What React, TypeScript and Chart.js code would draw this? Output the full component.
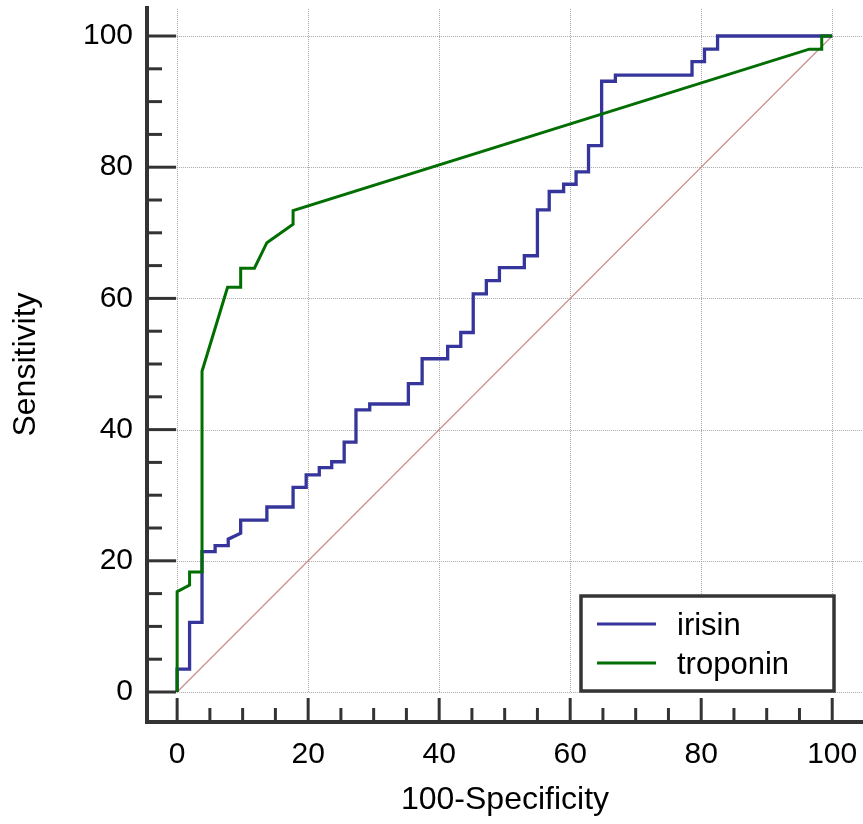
import React, { useEffect, useRef } from "react";
import { Chart, registerables } from "chart.js";

Chart.register(...registerables);

// ROC curve vertices (100-Specificity, Sensitivity)
const irisinX = [0, 0, 1.9, 1.9, 3.8, 3.8, 5.8, 5.8, 7.8, 7.8, 9.7, 9.7, 13.7, 13.7, 17.7, 17.7, 19.7, 19.7, 21.7, 21.7, 23.6, 23.6, 25.5, 25.5, 27.3, 27.3, 29.4, 29.4, 35.3, 35.3, 37.4, 37.4, 41.3, 41.3, 43.3, 43.3, 45.2, 45.2, 47.2, 47.2, 49.2, 49.2, 53.0, 53.0, 55.0, 55.0, 56.8, 56.8, 59.0, 59.0, 60.9, 60.9, 62.8, 62.8, 64.8, 64.8, 66.9, 66.9, 78.6, 78.6, 80.5, 80.5, 82.5, 82.5, 100];
const irisinY = [0, 3.5, 3.5, 10.6, 10.6, 21.4, 21.4, 22.3, 22.3, 23.3, 24.2, 26.2, 26.2, 28.2, 28.2, 31.2, 31.2, 33.1, 33.1, 34.2, 34.2, 35.1, 35.1, 38.1, 38.1, 43.0, 43.0, 43.9, 43.9, 47.0, 47.0, 50.8, 50.8, 52.7, 52.7, 54.8, 54.8, 60.7, 60.7, 62.7, 62.7, 64.7, 64.7, 66.5, 66.5, 73.5, 73.5, 76.3, 76.3, 77.4, 77.4, 79.3, 79.3, 83.3, 83.3, 93.1, 93.1, 94.05, 94.05, 96.1, 96.1, 98.0, 98.0, 100, 100];

const troponinX = [0, 0, 1.9, 1.9, 3.8, 3.8, 7.7, 9.7, 9.7, 11.8, 13.7, 17.7, 17.7, 96.5, 98.4, 98.4, 100];
const troponinY = [0, 15.3, 16.3, 18.3, 18.3, 48.9, 61.7, 61.7, 64.6, 64.6, 68.5, 71.3, 73.4, 98.0, 98.0, 100, 100];

const diagonalX = [0, 100];
const diagonalY = [0, 100];

const majorTicks = [0, 20, 40, 60, 80, 100];
const minorTicks = [5, 10, 15, 25, 30, 35, 45, 50, 55, 65, 70, 75, 85, 90, 95];

const seriesLabels = ["irisin", "troponin"];
const xTitle = "100-Specificity";
const yTitle = "Sensitivity";

const FONT = "'Liberation Sans', Arial, sans-serif";
const BLUE = "#35359b";
const GREEN = "#006e00";
const AXIS = "#333333";

const toPoints = (xs: number[], ys: number[]) => xs.map((x, i) => ({ x, y: ys[i] }));

const zeroPadding = (s: any) => {
  s.paddingTop = 0;
  s.paddingBottom = 0;
  s.paddingLeft = 0;
  s.paddingRight = 0;
};

const rocPlugin = {
  id: "rocDecor",
  beforeDatasetsDraw(chart: any) {
    const { ctx, chartArea, scales } = chart;
    const x = scales.x;
    const y = scales.y;
    ctx.save();
    ctx.strokeStyle = "#a8a8a8";
    ctx.lineWidth = 1;
    ctx.setLineDash([1, 1]);
    for (const v of majorTicks) {
      const py = Math.round(y.getPixelForValue(v)) + 0.5;
      ctx.beginPath();
      ctx.moveTo(x.getPixelForValue(0), py);
      ctx.lineTo(chartArea.right, py);
      ctx.stroke();
      const px = Math.round(x.getPixelForValue(v)) + 0.5;
      ctx.beginPath();
      ctx.moveTo(px, y.getPixelForValue(0));
      ctx.lineTo(px, chartArea.top);
      ctx.stroke();
    }
    ctx.restore();
  },
  afterDatasetsDraw(chart: any) {
    const { ctx, chartArea, scales } = chart;
    const x = scales.x;
    const y = scales.y;
    ctx.save();
    ctx.setLineDash([]);
    ctx.strokeStyle = AXIS;
    ctx.lineCap = "butt";
    const axX = chartArea.left;
    const axY = chartArea.bottom + 1;
    // axis lines
    ctx.lineWidth = 4;
    ctx.beginPath();
    ctx.moveTo(axX, chartArea.top - 2);
    ctx.lineTo(axX, axY + 2);
    ctx.stroke();
    ctx.beginPath();
    ctx.moveTo(axX - 2, axY);
    ctx.lineTo(chartArea.right, axY);
    ctx.stroke();
    // ticks
    ctx.lineWidth = 3;
    const x0 = x.getPixelForValue(0);
    const y0 = y.getPixelForValue(0);
    for (const v of majorTicks) {
      const py = y.getPixelForValue(v);
      ctx.beginPath();
      ctx.moveTo(axX, py);
      ctx.lineTo(x0 - 1, py);
      ctx.stroke();
      const px = x.getPixelForValue(v);
      ctx.beginPath();
      ctx.moveTo(px, axY);
      ctx.lineTo(px, y0 + 6);
      ctx.stroke();
    }
    for (const v of minorTicks) {
      const py = y.getPixelForValue(v);
      ctx.beginPath();
      ctx.moveTo(axX, py);
      ctx.lineTo(axX + 15, py);
      ctx.stroke();
      const px = x.getPixelForValue(v);
      ctx.beginPath();
      ctx.moveTo(px, axY);
      ctx.lineTo(px, axY - 14);
      ctx.stroke();
    }
    // legend
    const bw = 253;
    const bh = 95;
    const bx = chartArea.right - 29 - bw;
    const by = y0 - 1 - bh;
    ctx.fillStyle = "#ffffff";
    ctx.fillRect(bx, by, bw, bh);
    ctx.lineWidth = 3.5;
    ctx.strokeStyle = "#353535";
    ctx.strokeRect(bx, by, bw, bh);
    const items = chart.data.datasets.filter((d: any) => d.label);
    items.sort((a: any, b: any) => seriesLabels.indexOf(a.label) - seriesLabels.indexOf(b.label));
    ctx.font = `31px ${FONT}`;
    ctx.textBaseline = "alphabetic";
    ctx.textAlign = "left";
    items.forEach((d: any, i: number) => {
      const ly = by + 28 + i * 39;
      ctx.strokeStyle = d.borderColor;
      ctx.lineWidth = 3;
      ctx.beginPath();
      ctx.moveTo(bx + 16, ly);
      ctx.lineTo(bx + 75, ly);
      ctx.stroke();
      ctx.fillStyle = "#000000";
      ctx.fillText(d.label, bx + 96, ly + 11);
    });
    ctx.restore();
  },
};

export default function App() {
  const canvasRef = useRef<HTMLCanvasElement | null>(null);

  useEffect(() => {
    if (!canvasRef.current) return;
    const chart = new Chart(canvasRef.current, {
      type: "scatter",
      data: {
        datasets: [
          {
            label: seriesLabels[1],
            data: toPoints(troponinX, troponinY),
            showLine: true,
            borderColor: GREEN,
            backgroundColor: GREEN,
            borderWidth: 3,
            pointRadius: 0,
            tension: 0,
            order: 0,
          },
          {
            label: seriesLabels[0],
            data: toPoints(irisinX, irisinY),
            showLine: true,
            borderColor: BLUE,
            backgroundColor: BLUE,
            borderWidth: 3.3,
            pointRadius: 0,
            tension: 0,
            order: 1,
          },
          {
            label: "",
            data: toPoints(diagonalX, diagonalY),
            showLine: true,
            borderColor: "rgb(205,140,140)",
            borderWidth: 1.2,
            pointRadius: 0,
            tension: 0,
            order: 2,
          },
        ],
      },
      options: {
        responsive: false,
        animation: false,
        devicePixelRatio: 1,
        layout: { padding: { top: 8, left: 0, right: 0, bottom: 0 } },
        plugins: { legend: { display: false }, tooltip: { enabled: false } },
        scales: {
          x: {
            type: "linear",
            min: -4.6,
            max: 104.7,
            grid: { display: false, drawTicks: false },
            border: { display: false },
            afterBuildTicks: (s: any) => {
              s.ticks = majorTicks.map((v) => ({ value: v }));
            },
            afterFit: (s: any) => {
              s.height = 103;
              zeroPadding(s);
            },
            ticks: {
              padding: 16,
              color: "#000000",
              font: { family: FONT, size: 30 },
              maxRotation: 0,
              autoSkip: false,
            },
            title: {
              display: true,
              text: xTitle,
              color: "#000000",
              font: { family: FONT, size: 32 },
              padding: { top: 0, bottom: 5 },
            },
          },
          y: {
            type: "linear",
            min: -4.42,
            max: 104.27,
            grid: { display: false, drawTicks: false },
            border: { display: false },
            afterBuildTicks: (s: any) => {
              s.ticks = majorTicks.map((v) => ({ value: v }));
            },
            afterFit: (s: any) => {
              s.width = 147;
              zeroPadding(s);
            },
            ticks: {
              padding: 14,
              color: "#000000",
              font: { family: FONT, size: 30 },
              autoSkip: false,
            },
            title: {
              display: true,
              text: yTitle,
              color: "#000000",
              font: { family: FONT, size: 32 },
              padding: { top: 7, bottom: 0 },
            },
          },
        },
      },
      plugins: [rocPlugin],
    });
    return () => chart.destroy();
  }, []);

  return (
    <div style={{ position: "absolute", left: 0, top: 0, width: 863, height: 824, background: "#ffffff" }}>
      <canvas ref={canvasRef} width={863} height={824} style={{ display: "block" }} />
    </div>
  );
}
